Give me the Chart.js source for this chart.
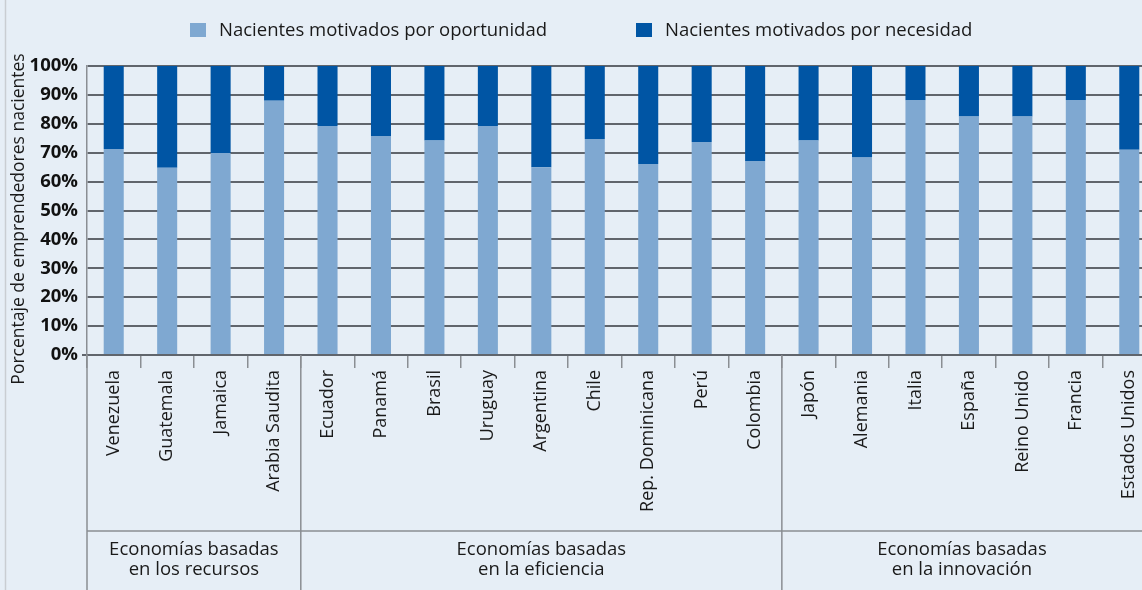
<!DOCTYPE html>
<html>
<head>
<meta charset="utf-8">
<script src="https://cdn.jsdelivr.net/npm/chart.js@4"></script>
<style>
  body { margin: 0; background: #e6eef6; overflow: hidden; width: 1142px; height: 590px; position: relative; font-family: 'Open Sans', sans-serif; }
  #wrap { position: absolute; left: 0; top: 0; width: 1142px; height: 590px; overflow: hidden; }
  canvas { display: block; }
  .leg { position: absolute; top: 16px; font-size: 18.5px; color: #1a1a1a; white-space: nowrap; }
  .leg span { display: inline-block; width: 16px; height: 14px; margin-right: 13px; vertical-align: -1px; }
</style>
</head>
<body>
<div id="wrap"><canvas id="chart" width="1156" height="590"></canvas></div>
<div class="leg" style="left:190px"><span style="background:#7fa8d1"></span>Nacientes motivados por oportunidad</div>
<div class="leg" style="left:636px"><span style="background:#0055a4"></span>Nacientes motivados por necesidad</div>
<script>
const paises = ['Venezuela', 'Guatemala', 'Jamaica', 'Arabia Saudita', 'Ecuador', 'Panamá', 'Brasil', 'Uruguay',
    'Argentina', 'Chile', 'Rep. Dominicana', 'Perú', 'Colombia', 'Japón', 'Alemania', 'Italia', 'España',
    'Reino Unido', 'Francia', 'Estados Unidos'];
const oportunidad = [71.3, 64.8, 69.9, 88.0, 79.2, 75.8, 74.2, 79.2, 65.0, 74.7, 66.1, 73.7, 67.1, 74.2, 68.3, 88.2, 82.5, 82.5, 88.2, 71.0];
const necesidad = [28.7, 35.2, 30.1, 12.0, 20.8, 24.2, 25.8, 20.8, 35.0, 25.3, 33.9, 26.3, 32.9, 25.8, 31.7, 11.8, 17.5, 17.5, 11.8, 29.0];
const grupos = [
    { lines: ['Economías basadas', 'en los recursos'], desde: 0, hasta: 3 },
    { lines: ['Economías basadas', 'en la eficiencia'], desde: 4, hasta: 12 },
    { lines: ['Economías basadas', 'en la innovación'], desde: 13, hasta: 19 }
];
const yTicks = [0, 10, 20, 30, 40, 50, 60, 70, 80, 90, 100];
const yTitulo = 'Porcentaje de emprendedores nacientes';

const fondo = {
    id: 'fondo',
    beforeDraw(chart) {
        const ctx = chart.ctx;
        ctx.save();
        ctx.fillStyle = '#e6eef6';
        ctx.fillRect(0, 0, chart.width, chart.height);
        ctx.strokeStyle = '#c9cdd2';
        ctx.lineWidth = 1.5;
        ctx.beginPath();
        ctx.moveTo(5.5, 0);
        ctx.lineTo(5.5, chart.height);
        ctx.stroke();
        ctx.restore();
    }
};

// separadores y etiquetas de grupo bajo el eje x, y titulo del eje y
const gruposPlugin = {
    id: 'grupos',
    afterDraw(chart) {
        const ctx = chart.ctx;
        const x = chart.scales.x;
        const area = chart.chartArea;
        const half = (x.getPixelForValue(1) - x.getPixelForValue(0)) / 2;
        const lineY = 531;
        ctx.save();
        ctx.strokeStyle = '#8a8e93';
        ctx.lineWidth = 1.5;
        ctx.beginPath();
        ctx.moveTo(area.left, lineY);
        ctx.lineTo(chart.width, lineY);
        ctx.moveTo(area.left, area.bottom);
        ctx.lineTo(area.left, chart.height);
        grupos.forEach(g => {
            const r = x.getPixelForValue(g.hasta) + half;
            ctx.moveTo(r, area.bottom);
            ctx.lineTo(r, chart.height);
        });
        ctx.stroke();
        ctx.fillStyle = '#1a1a1a';
        ctx.font = '18.5px "Open Sans"';
        ctx.textAlign = 'center';
        ctx.textBaseline = 'middle';
        grupos.forEach(g => {
            const l = x.getPixelForValue(g.desde) - half;
            const r = Math.min(x.getPixelForValue(g.hasta) + half, 1142);
            const cx = (l + r) / 2;
            g.lines.forEach((t, i) => ctx.fillText(t, cx, 550 + i * 20));
        });
        ctx.translate(19, 219);
        ctx.rotate(-Math.PI / 2);
        ctx.font = '17.5px "Open Sans"';
        ctx.fillText(yTitulo, 0, 0);
        ctx.restore();
    }
};

new Chart(document.getElementById('chart'), {
    type: 'bar',
    data: {
        labels: paises,
        datasets: [
            { label: 'Nacientes motivados por oportunidad', data: oportunidad, backgroundColor: '#7fa8d1' },
            { label: 'Nacientes motivados por necesidad', data: necesidad, backgroundColor: '#0055a4' }
        ]
    },
    options: {
        responsive: false,
        animation: false,
        categoryPercentage: 1,
        barPercentage: 0.375,
        layout: { padding: { top: 66, right: 0, left: 0, bottom: 0 } },
        plugins: {
            legend: { display: false },
            tooltip: { enabled: false }
        },
        scales: {
            x: {
                stacked: true,
                afterFit: s => { s.height = 235; },
                grid: { drawOnChartArea: false, offset: true, tickLength: 13, color: '#8a8e93', lineWidth: 1.5 },
                border: { color: '#60656c', width: 2 },
                ticks: {
                    autoSkip: false, maxRotation: 90, minRotation: 90, padding: 2,
                    color: '#1a1a1a', font: { family: 'Open Sans', size: 18 }
                }
            },
            y: {
                stacked: true,
                min: 0,
                max: 100,
                afterFit: s => { s.width = 87; },
                afterBuildTicks: s => { s.ticks = yTicks.map(v => ({ value: v })); },
                grid: {
                    color: '#60656c', lineWidth: 2, tickLength: 5,
                    tickColor: c => c.tick && c.tick.value === 0 ? '#60656c' : 'rgba(0,0,0,0)'
                },
                border: { color: '#8a8e93', width: 1.5 },
                ticks: {
                    padding: 4, color: '#111',
                    font: { family: 'Open Sans', size: 18.5, weight: 'bold' },
                    callback: v => v + '%'
                }
            }
        }
    },
    plugins: [fondo, gruposPlugin]
});
</script>
</body>
</html>
